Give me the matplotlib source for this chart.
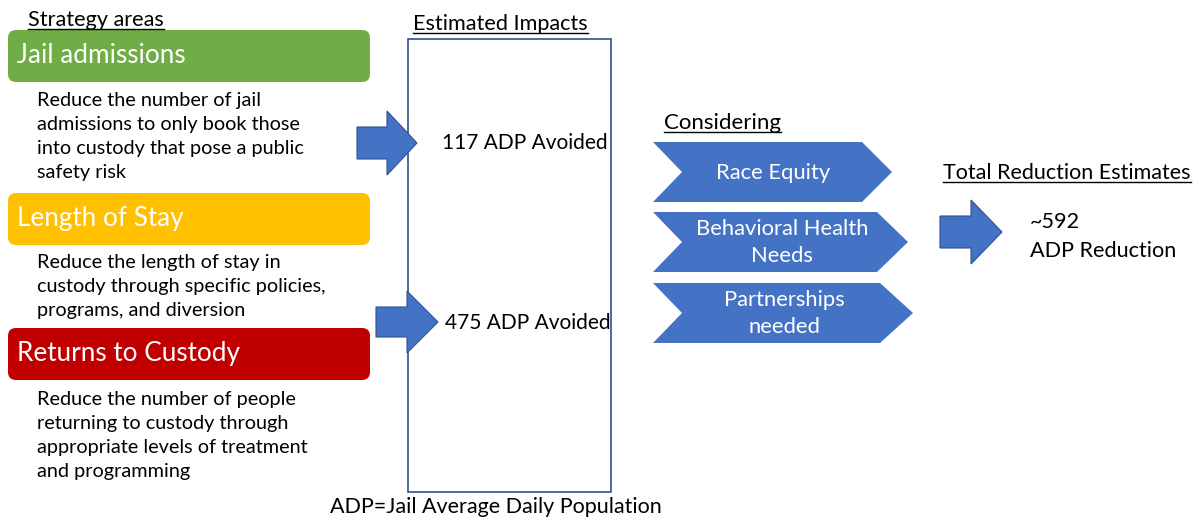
import matplotlib.pyplot as plt
from matplotlib.patches import FancyBboxPatch, Polygon, Rectangle

plt.rcParams['font.family'] = ['Lato', 'DejaVu Sans']

# diagram content
strategies = ['Jail admissions', 'Length of Stay', 'Returns to Custody']
strategy_colors = ['#70AD47', '#FFC000', '#C00000']
descriptions = [
    ['Reduce the number of jail', 'admissions to only book those',
     'into custody that pose a public', 'safety risk'],
    ['Reduce the length of stay in', 'custody through specific policies,',
     'programs, and diversion'],
    ['Reduce the number of people', 'returning to custody through',
     'appropriate levels of treatment', 'and programming'],
]
impacts = [117, 475]
considerations = [['Race Equity'], ['Behavioral Health', 'Needs'], ['Partnerships', 'needed']]
total_reduction = 592
footnote = 'ADP=Jail Average Daily Population'

BLUE = '#4472C4'
EDGE = '#2F528F'

fig = plt.figure(figsize=(12, 5.21), dpi=100)
ax = fig.add_axes([0, 0, 1, 1])
ax.set_xlim(0, 1200)
ax.set_ylim(521, 0)
ax.axis('off')

headers = []


def header(x, y, s, size=15.5):
    t = ax.text(x, y, s, fontsize=size, va='baseline', ha='left', color='black')
    headers.append(t)


def block_arrow(x0, xh, xt, yc, shaft, head):
    pts = [(x0, yc - shaft), (xh, yc - shaft), (xh, yc - head), (xt, yc),
           (xh, yc + head), (xh, yc + shaft), (x0, yc + shaft)]
    ax.add_patch(Polygon(pts, closed=True, fc=BLUE, ec=EDGE, lw=0.8))


def chevron(x0, notch, xr, tip, top, bot):
    ym = (top + bot) / 2
    pts = [(x0, top), (xr, top), (tip, ym), (xr, bot), (x0, bot), (notch, ym)]
    ax.add_patch(Polygon(pts, closed=True, fc=BLUE, ec='none'))


# strategy areas column
header(28, 26, 'Strategy areas', size=15.6)
box_tops = [30, 193, 328]
desc_base = [106, 268, 405]
for i, name in enumerate(strategies):
    ax.add_patch(FancyBboxPatch((8, box_tops[i]), 362, 52,
                                boxstyle='round,pad=0,rounding_size=8',
                                fc=strategy_colors[i], ec='none'))
    ax.text(17, box_tops[i] + 33, name, fontsize=18.8, color='white', va='baseline')
    for j, line in enumerate(descriptions[i]):
        ax.text(37, desc_base[i] + j * 24, line, fontsize=14.3, va='baseline')

# estimated impacts
header(413, 30, 'Estimated Impacts', size=15.6)
ax.add_patch(Rectangle((408, 39), 203, 453, fill=False, ec=EDGE, lw=1.2))
block_arrow(357, 387, 417, 143, 16, 32)
block_arrow(376, 407, 438, 322, 15, 31)
ax.text(442, 149, '%d ADP Avoided' % impacts[0], fontsize=15, va='baseline')
ax.text(445, 329, '%d ADP Avoided' % impacts[1], fontsize=15, va='baseline')

# considering
header(664, 129, 'Considering', size=16)
chev = [(142, 202, 862, 892), (212, 272, 877, 908), (283, 343, 880, 913)]
centers = [773, 782, 784]
for i, lines in enumerate(considerations):
    top, bot, xr, tip = chev[i]
    chevron(653, 682, xr, tip, top, bot)
    if len(lines) == 1:
        bases = [179]
    else:
        bases = [(top + bot) / 2 - 7, (top + bot) / 2 + 20]
    for line, b in zip(lines, bases):
        ax.text(centers[i], b, line, fontsize=15.8, color='white', ha='center', va='baseline')

# total reduction
header(943, 179, 'Total Reduction Estimates', size=15.5)
block_arrow(940, 971, 1002, 232, 16, 32)
ax.text(1030, 228, '~%d' % total_reduction, fontsize=15.6, va='baseline')
ax.text(1030, 257, 'ADP Reduction', fontsize=15.6, va='baseline')

ax.text(330, 513, footnote, fontsize=15.5, va='baseline')

# underline the headers
fig.canvas.draw()
r = fig.canvas.get_renderer()
inv = ax.transData.inverted()
for t in headers:
    bb = t.get_window_extent(renderer=r)
    (x0, _), (x1, _) = inv.transform([(bb.x0, bb.y0), (bb.x1, bb.y0)])
    yb = t.get_position()[1] + 3
    ax.plot([x0, x1], [yb, yb], color='black', lw=1)

fig.savefig('out.png', dpi=100)
